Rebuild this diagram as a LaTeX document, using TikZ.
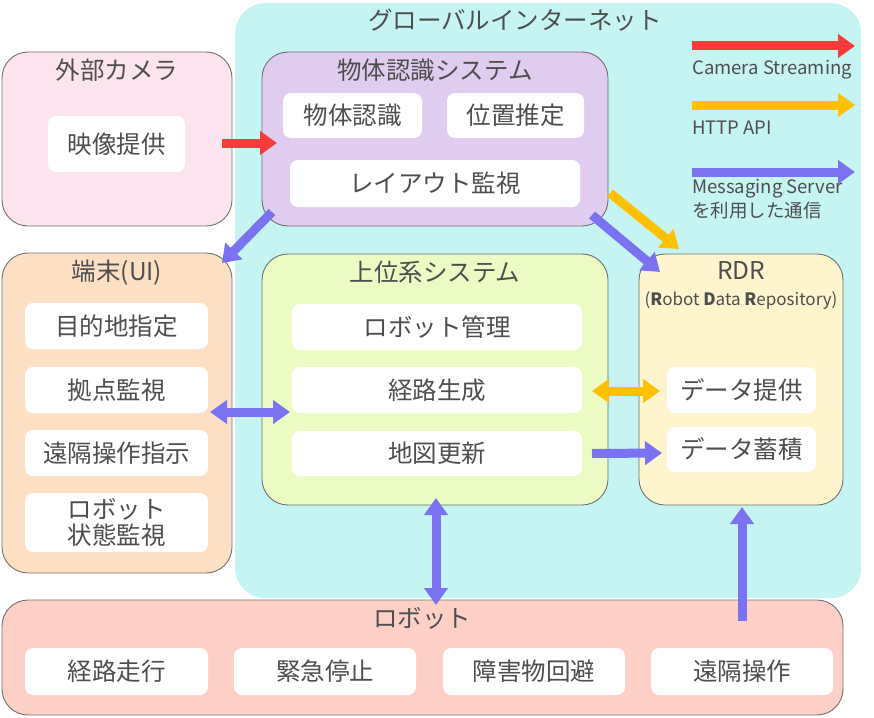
\documentclass[tikz,border=0pt]{standalone}
\usepackage{fontspec}
\setmainfont{Noto Sans CJK JP}
\usetikzlibrary{arrows.meta}
\definecolor{netbg}{RGB}{197,244,243}
\definecolor{campink}{RGB}{252,228,238}
\definecolor{objlav}{RGB}{224,204,239}
\definecolor{termpeach}{RGB}{253,224,196}
\definecolor{uppergreen}{RGB}{235,251,195}
\definecolor{rdryellow}{RGB}{254,245,206}
\definecolor{robsalmon}{RGB}{253,208,199}
\definecolor{bordergray}{RGB}{112,112,112}
\definecolor{txt}{RGB}{78,78,78}
\definecolor{ared}{RGB}{248,58,58}
\definecolor{ayellow}{RGB}{255,192,0}
\definecolor{ablue}{RGB}{123,114,242}
\newcommand\fsMain{\fontsize{24.5}{28}\selectfont}
\newcommand\fsLeg{\fontsize{18.5}{22}\selectfont}
\newcommand\fsSub{\fontsize{17}{20}\selectfont}
\tikzset{
  panel/.style={draw=bordergray, line width=0.9pt, rounded corners=26pt, inner sep=0pt, outer sep=0pt, anchor=north west},
  item/.style={fill=white, rounded corners=8pt, inner sep=0pt, outer sep=0pt, font=\fsMain, text=txt, align=center, anchor=north west},
  ttl/.style={font=\fsMain, text=txt, inner sep=0pt},
  legtxt/.style={font=\fsLeg, text=txt, inner sep=0pt, anchor=west, align=left},
  conn/.style={line width=9pt, -{Triangle[width=23pt,length=17pt]}},
  dconn/.style={line width=9pt, {Triangle[width=23pt,length=17pt]}-{Triangle[width=23pt,length=17pt]}},
}
\begin{document}
\begin{tikzpicture}[x=1pt,y=-1pt]
\useasboundingbox (0,0) rectangle (874,717);
% global internet
\node[fill=netbg, rounded corners=30pt, inner sep=0pt, minimum width=626pt, minimum height=595pt, anchor=north west] (net) at (235,3) {};
\node[ttl] (netT) at (515,20) {グローバルインターネット};
% external camera
\node[panel, fill=campink, minimum width=230pt, minimum height=174pt] (cam) at (2,52) {};
\node[ttl] (camT) at (117,70) {外部カメラ};
\node[item, minimum width=137pt, minimum height=56pt] (vid) at (48,116) {映像提供};
% object recognition
\node[panel, fill=objlav, minimum width=346pt, minimum height=174pt] (obj) at (262,52) {};
\node[ttl] (objT) at (435,70) {物体認識システム};
\node[item, minimum width=139pt, minimum height=45pt] (objrec) at (283,93) {物体認識};
\node[item, minimum width=137pt, minimum height=45pt] (pos) at (447,93) {位置推定};
\node[item, minimum width=290pt, minimum height=47pt] (layout) at (290,160) {レイアウト監視};
% terminal
\node[panel, fill=termpeach, minimum width=230pt, minimum height=320pt] (term) at (2,253) {};
\node[ttl] (termT) at (117,273) {端末(UI)};
\node[item, minimum width=183pt, minimum height=46pt] (dest) at (25,303) {目的地指定};
\node[item, minimum width=183pt, minimum height=46pt] (base) at (25,367) {拠点監視};
\node[item, minimum width=183pt, minimum height=46pt] (rins) at (25,430) {遠隔操作指示};
\node[item, minimum width=183pt, minimum height=59pt, font=\fontsize{24.5}{26}\selectfont] (state) at (25,493) {ロボット\\状態監視};
% upper system
\node[panel, fill=uppergreen, minimum width=346pt, minimum height=251pt] (upper) at (262,254) {};
\node[ttl] (upperT) at (435,272) {上位系システム};
\node[item, minimum width=290pt, minimum height=46pt] (rmgmt) at (292,304) {ロボット管理};
\node[item, minimum width=290pt, minimum height=46pt] (route) at (292,367) {経路生成};
\node[item, minimum width=290pt, minimum height=45pt] (map) at (292,431) {地図更新};
% RDR
\node[panel, fill=rdryellow, minimum width=204pt, minimum height=251pt] (rdr) at (639,254) {};
\node[ttl] (rdrT) at (741,271) {RDR};
\node[ttl, font=\fsSub] (rdrS) at (741,301) {(\textbf{R}obot \textbf{D}ata \textbf{R}epository)};
\node[item, minimum width=149pt, minimum height=46pt] (dprov) at (667,367) {データ提供};
\node[item, minimum width=149pt, minimum height=45pt] (dstore) at (667,427) {データ蓄積};
% robot
\node[panel, fill=robsalmon, minimum width=841pt, minimum height=115pt] (robot) at (2,600) {};
\node[ttl] (robotT) at (422,618) {ロボット};
\node[item, minimum width=183pt, minimum height=47pt] (rdrive) at (25,648) {経路走行};
\node[item, minimum width=182pt, minimum height=47pt] (estop) at (234,648) {緊急停止};
\node[item, minimum width=182pt, minimum height=47pt] (avoid) at (443,648) {障害物回避};
\node[item, minimum width=182pt, minimum height=47pt] (remote) at (651,648) {遠隔操作};
% legend
\coordinate (l1a) at (692,46); \coordinate (l1b) at (855,46);
\coordinate (l2a) at (692,105); \coordinate (l2b) at (855,105);
\coordinate (l3a) at (692,172); \coordinate (l3b) at (855,172);
\draw[conn, ared] (l1a) -- (l1b);
\draw[conn, ayellow] (l2a) -- (l2b);
\draw[conn, ablue] (l3a) -- (l3b);
\node[legtxt] (leg1) at (692,70) {Camera Streaming};
\node[legtxt] (leg2) at (692,128) {HTTP API};
\node[legtxt] (leg3) at (692,189) {Messaging Server};
\node[legtxt] (leg4) at (692,211) {を利用した通信};
% connectors
\draw[conn, ared] ([xshift=-10pt,yshift=-4pt]cam.east) -- ([xshift=15pt,yshift=-4pt]obj.west);
\draw[conn, ablue] ([xshift=10pt,yshift=14pt]obj.south west) -- ([xshift=-10pt,yshift=-10pt]term.north east);
\draw[conn, ayellow] ([xshift=2pt,yshift=-54pt]obj.east) -- ([xshift=40pt,yshift=5pt]rdr.north west);
\draw[conn, ablue] ([xshift=-16pt,yshift=11pt]obj.south east) -- ([xshift=21pt,yshift=-18pt]rdr.north west);
\draw[dconn, ablue] ([xshift=-22pt,yshift=1pt]term.east) -- ([xshift=28pt,yshift=-32.5pt]upper.west);
\draw[dconn, ayellow] ([xshift=10pt,yshift=-1pt]route.east) -- ([xshift=-7pt,yshift=-1pt]dprov.west);
\draw[conn, ablue] ([xshift=10pt]map.east) -- ([xshift=-5pt,yshift=-3.5pt]dstore.west);
\draw[dconn, ablue] ([xshift=1pt,yshift=7pt]upper.south) -- ([xshift=13.5pt,yshift=-5pt]robot.north);
\draw[conn, ablue] ([yshift=27pt]remote.north) -- ([xshift=1pt,yshift=-2pt]rdr.south);
\end{tikzpicture}
\end{document}
